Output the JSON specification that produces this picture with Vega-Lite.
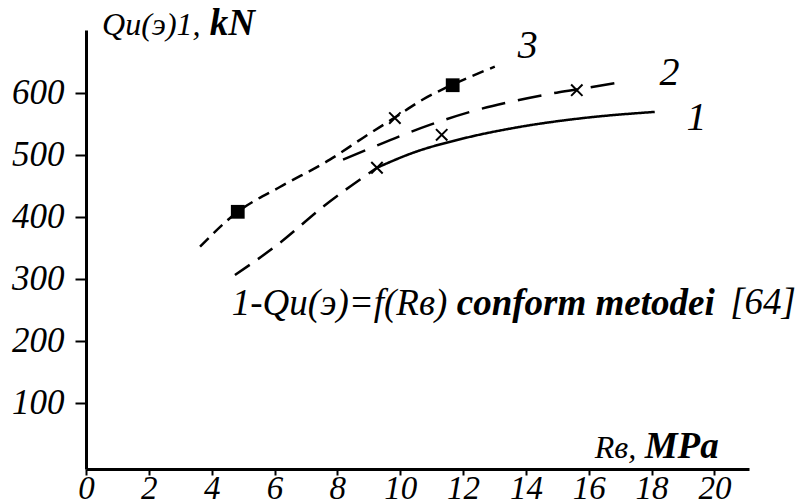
{
  "$schema": "https://vega.github.io/schema/vega-lite/v6.json",
  "width": 663,
  "height": 439,
  "autosize": {"type": "none"},
  "padding": {"left": 86, "top": 30, "right": 53, "bottom": 35},
  "background": "white",
  "config": {
    "view": {"stroke": null},
    "axis": {
      "grid": false,
      "domainColor": "black",
      "domainWidth": 3,
      "tickColor": "black",
      "tickWidth": 2,
      "labelFont": "Liberation Serif",
      "labelFontStyle": "oblique",
      "labelColor": "black",
      "title": null
    }
  },
  "datasets": {
    "curves": [
      {"series": "1a", "r": 4.74, "q": 306},
      {"series": "1a", "r": 6.17, "q": 358},
      {"series": "1a", "r": 7.54, "q": 416},
      {"series": "1a", "r": 9.26, "q": 479},
      {"series": "1b", "r": 9.26, "q": 479},
      {"series": "1b", "r": 10.4, "q": 503},
      {"series": "1b", "r": 11.99, "q": 526},
      {"series": "1b", "r": 13.71, "q": 544},
      {"series": "1b", "r": 15.81, "q": 559},
      {"series": "1b", "r": 18.1, "q": 569},
      {"series": "2", "r": 8.18, "q": 492},
      {"series": "2", "r": 8.94, "q": 508},
      {"series": "2", "r": 9.99, "q": 530},
      {"series": "2", "r": 10.94, "q": 548},
      {"series": "2", "r": 12.22, "q": 569},
      {"series": "2", "r": 13.49, "q": 585},
      {"series": "2", "r": 14.98, "q": 600},
      {"series": "2", "r": 15.62, "q": 605},
      {"series": "2", "r": 17.15, "q": 618},
      {"series": "3", "r": 3.63, "q": 352},
      {"series": "3", "r": 4.83, "q": 408},
      {"series": "3", "r": 6.17, "q": 448},
      {"series": "3", "r": 7.76, "q": 492},
      {"series": "3", "r": 8.81, "q": 527},
      {"series": "3", "r": 9.83, "q": 560},
      {"series": "3", "r": 10.72, "q": 589},
      {"series": "3", "r": 11.67, "q": 613},
      {"series": "3", "r": 13.01, "q": 642}
    ],
    "squares": [
      {"r": 4.83, "q": 408},
      {"r": 11.67, "q": 612}
    ],
    "crosses": [
      {"r": 9.83, "q": 559},
      {"r": 9.26, "q": 479},
      {"r": 11.32, "q": 532},
      {"r": 15.62, "q": 604}
    ],
    "curveLabels": [
      {"r": 14.06, "q": 656, "label": "3"},
      {"r": 18.57, "q": 612, "label": "2"},
      {"r": 19.43, "q": 540, "label": "1"}
    ],
    "annotRegular": [
      {"r": 4.64, "q": 241.6, "label": "1-Qu(э)=f(Rв)"},
      {"r": 20.5, "q": 244, "label": "[64]"}
    ],
    "annotBold": [
      {"r": 11.8, "q": 241.6, "label": "conform metodei"}
    ],
    "titleRegular": [
      {"r": 0.51, "q": 693, "label": "Qu(э)1,"},
      {"r": 16.19, "q": 11.1, "label": "Rв,"}
    ],
    "titleBold": [
      {"r": 3.94, "q": 693, "label": "kN"},
      {"r": 17.78, "q": 11.1, "label": "MPa"}
    ]
  },
  "encoding": {
    "x": {
      "field": "r",
      "type": "quantitative",
      "scale": {"domain": [0, 21.1], "nice": false, "zero": false},
      "axis": {
        "values": [0, 2, 4, 6, 8, 10, 12, 14, 16, 18, 20],
        "tickSize": 6,
        "labelFontSize": 33,
        "labelPadding": -3,
        "labelFlush": false,
        "labelOverlap": false
      }
    },
    "y": {
      "field": "q",
      "type": "quantitative",
      "scale": {"domain": [-6.5, 701], "nice": false, "zero": false},
      "axis": {
        "values": [100, 200, 300, 400, 500, 600],
        "tickSize": 11,
        "labelFontSize": 35,
        "labelPadding": 11,
        "labelFlush": false,
        "labelOverlap": false
      }
    }
  },
  "layer": [
    {
      "data": {"name": "curves"},
      "mark": {"type": "line", "color": "black", "strokeWidth": 2.5, "interpolate": "monotone"},
      "encoding": {
        "detail": {"field": "series", "type": "nominal"},
        "strokeDash": {
          "field": "series",
          "type": "nominal",
          "scale": {"domain": ["1a", "1b", "2", "3"], "range": [[18, 10], [1, 0], [24, 13], [12, 7]]},
          "legend": null
        }
      }
    },
    {
      "data": {"name": "squares"},
      "mark": {"type": "point", "shape": "square", "filled": true, "color": "black", "size": 190, "opacity": 1}
    },
    {
      "data": {"name": "crosses"},
      "mark": {"type": "point", "shape": "M-1,-1L1,1M-1,1L1,-1", "filled": false, "stroke": "black", "strokeWidth": 2, "size": 130, "opacity": 1}
    },
    {
      "data": {"name": "curveLabels"},
      "mark": {"type": "text", "font": "Liberation Serif", "fontStyle": "oblique", "fontSize": 40, "align": "center", "baseline": "alphabetic", "color": "black"},
      "encoding": {"text": {"field": "label"}}
    },
    {
      "data": {"name": "annotRegular"},
      "mark": {"type": "text", "font": "Liberation Serif", "fontStyle": "oblique", "fontSize": 37, "align": "left", "baseline": "alphabetic", "color": "black"},
      "encoding": {"text": {"field": "label"}}
    },
    {
      "data": {"name": "annotBold"},
      "mark": {"type": "text", "font": "Liberation Serif", "fontStyle": "italic", "fontWeight": "bold", "fontSize": 37, "align": "left", "baseline": "alphabetic", "color": "black"},
      "encoding": {"text": {"field": "label"}}
    },
    {
      "data": {"name": "titleRegular"},
      "mark": {"type": "text", "font": "Liberation Serif", "fontStyle": "oblique", "fontSize": 32, "align": "left", "baseline": "alphabetic", "color": "black"},
      "encoding": {"text": {"field": "label"}}
    },
    {
      "data": {"name": "titleBold"},
      "mark": {"type": "text", "font": "Liberation Serif", "fontStyle": "italic", "fontWeight": "bold", "fontSize": 37, "align": "left", "baseline": "alphabetic", "color": "black"},
      "encoding": {"text": {"field": "label"}}
    }
  ]
}
